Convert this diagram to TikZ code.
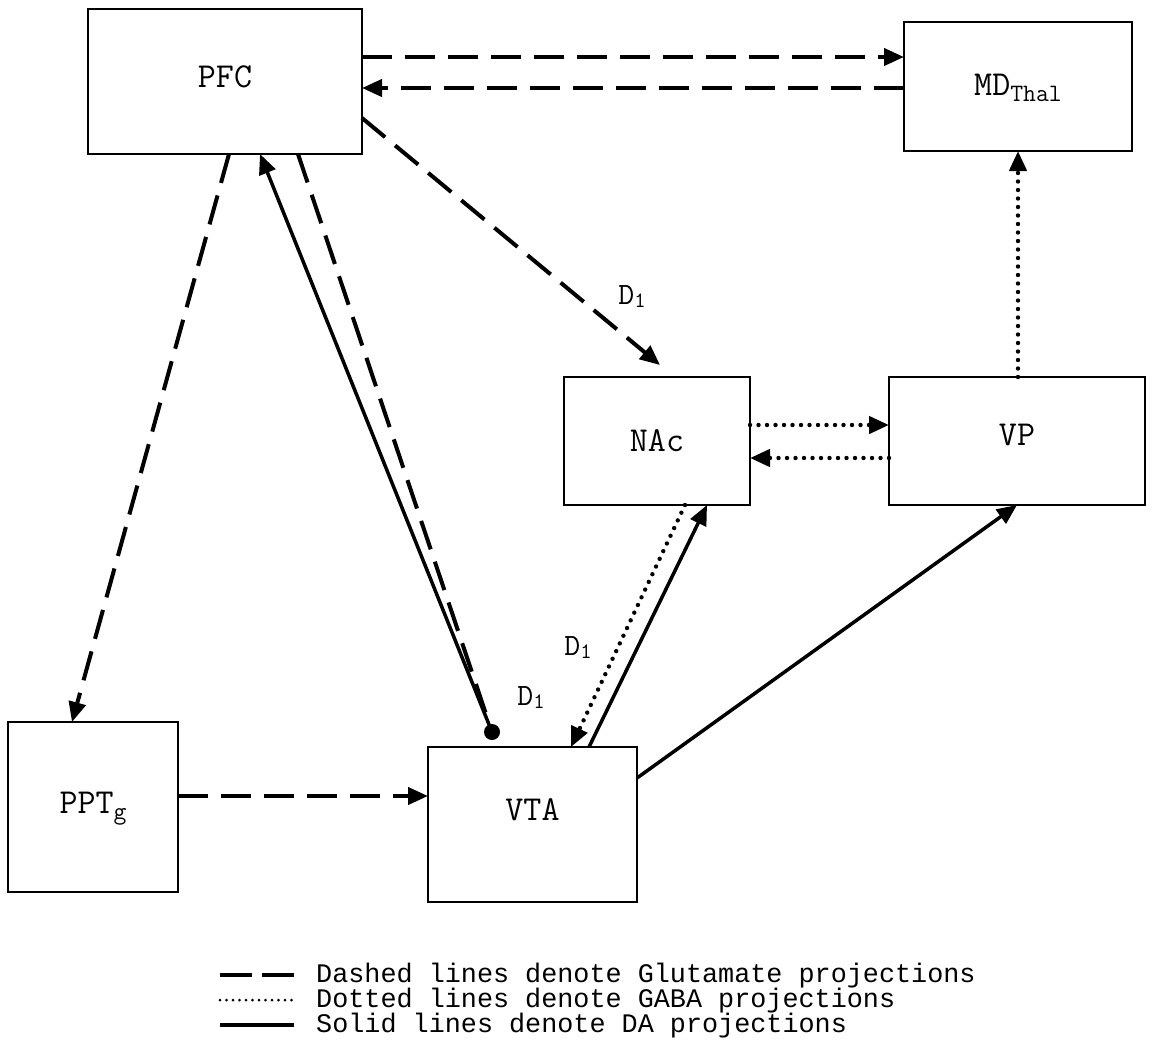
\documentclass[tikz,border=0pt]{standalone}
\usepackage{fontspec}
\newfontfamily\legfont{Liberation Mono}
\usetikzlibrary{arrows.meta,calc}
\newcommand{\subtxt}[2]{\raisebox{-#1}{\fontsize{25}{27}\selectfont #2}}
\begin{document}
\begin{tikzpicture}[x=1pt,y=-1pt,
  box/.style={draw, line width=2.5pt, inner sep=0pt, outer sep=0pt, font=\fontsize{35}{38}\selectfont\ttfamily},
  glu/.style={line width=4pt, dash pattern=on 30pt off 13pt},
  gaba/.style={line width=4.4pt, line cap=round, dash pattern=on 0pt off 8.5pt},
  da/.style={line width=3.5pt},
  tip/.style={-{Triangle[length=20pt,width=17pt]}},
  lbl/.style={inner sep=0pt, font=\fontsize{31}{33}\selectfont\ttfamily},
  legword/.style={anchor=base west, inner sep=0pt, font=\fontsize{26.8}{28}\selectfont\legfont}
]
\useasboundingbox (0,0) rectangle (1150,1050);
\fill[white] (0,0) rectangle (1150,1050);

% boxes
\node[box, minimum width=274pt, minimum height=145pt, text depth=10pt] (pfc) at (225,81.5) {PFC};
\node[box, minimum width=228pt, minimum height=129pt, text depth=4pt] (md) at (1018,86.5) {MD\subtxt{6pt}{Thal}};
\node[box, minimum width=186pt, minimum height=128pt] (nac) at (657,441) {NAc};
\node[box, minimum width=256pt, minimum height=128pt, text depth=12pt] (vp) at (1017,441) {VP};
\node[box, minimum width=170pt, minimum height=170pt, text depth=8pt] (pptg) at (93,807) {PPT\subtxt{6pt}{g}};
\node[box, minimum width=209pt, minimum height=155pt, text depth=30pt] (vta) at (532.5,824.5) {VTA};

\coordinate (dot) at (492,732);
\coordinate (nacin) at (660,365);

% glutamate (dashed)
\draw[glu,tip] (pfc.east |- 0,57) -- (md.west |- 0,57);
\draw[glu,tip] (md.west |- 0,88) -- (pfc.east |- 0,88);
\draw[glu,tip] (pfc.east |- 0,118) -- (nacin);
\draw[glu,tip] (pfc.south -| 229,0) -- (pptg.north -| 72,0);
\draw[glu,tip] (pptg.east |- 0,796) -- (vta.west |- 0,796);
\draw[glu] (pfc.south -| 298,0) -- (dot);
\fill (dot) circle (8pt);

% DA (solid)
\draw[da,tip] (dot) -- (pfc.south -| 260,0);
\draw[da,tip] (vta.north -| 589,0) -- (nac.south -| 707,0);
\draw[da,tip] (vta.east |- 0,778) -- (vp.south -| 1017,0);

% GABA (dotted)
\draw[gaba,tip] (nac.south -| 685,0) -- (vta.north -| 571,0);
\draw[gaba,tip] (nac.east |- 0,425) -- (vp.west |- 0,425);
\draw[gaba,tip] (vp.west |- 0,458) -- (nac.east |- 0,458);
\draw[gaba,tip] (vp.north -| 1018,0) -- (md.south -| 1018,0);

% D1 labels
\node[lbl] (d1a) at (632,297) {D\raisebox{-3pt}{\fontsize{22}{24}\selectfont 1}};
\node[lbl] (d1b) at (578,648) {D\raisebox{-3pt}{\fontsize{22}{24}\selectfont 1}};
\node[lbl] (d1c) at (531,698) {D\raisebox{-3pt}{\fontsize{22}{24}\selectfont 1}};

% legend
\coordinate (l1a) at (220,975); \coordinate (l1b) at (294,975);
\coordinate (l2a) at (220,1000); \coordinate (l2b) at (294,1000);
\coordinate (l3a) at (220,1025); \coordinate (l3b) at (294,1025);
\draw[line width=4pt, dash pattern=on 32pt off 10pt] (l1a) -- (l1b);
\draw[line width=3pt, line cap=round, dash pattern=on 0pt off 6.5pt] (l2a) -- (l2b);
\draw[line width=4pt] (l3a) -- (l3b);
\foreach \w/\i in {Dashed/0,lines/7,denote/13,Glutamate/20,projections/30}
  \node[legword] (ta\i) at ({316+\i*16.08},982) {\w};
\foreach \w/\i in {Dotted/0,lines/7,denote/13,GABA/20,projections/25}
  \node[legword] (tb\i) at ({316+\i*16.08},1007) {\w};
\foreach \w/\i in {Solid/0,lines/6,denote/12,DA/19,projections/22}
  \node[legword] (tc\i) at ({316+\i*16.08},1032) {\w};
\end{tikzpicture}
\end{document}
